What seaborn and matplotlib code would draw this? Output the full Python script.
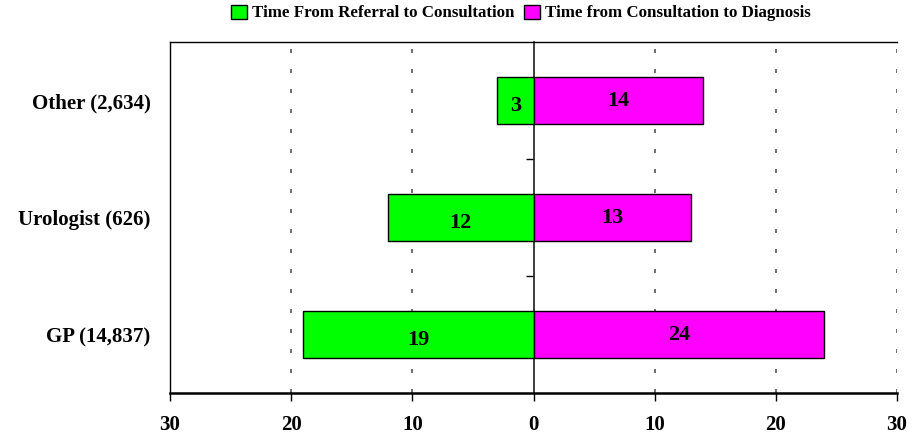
import matplotlib
matplotlib.use("Agg")
import matplotlib.pyplot as plt
import seaborn as sns
import pandas as pd
from matplotlib.patches import Patch

# Referral source groups (number of patients in brackets)
categories = ["Other (2,634)", "Urologist (626)", "GP (14,837)"]
# Median days from referral to first consultation
referral_to_consult = [3, 12, 19]
# Median days from consultation to diagnosis
consult_to_diagnosis = [14, 13, 24]
series_names = ["Time From Referral to Consultation",
                "Time from Consultation to Diagnosis"]
series_colors = ["#00FF00", "#FF00FF"]
x_ticks = [-30, -20, -10, 0, 10, 20, 30]
x_tick_labels = ["30", "20", "10", "0", "10", "20", "30"]

sns.set_theme(style="white")
plt.rcParams["font.family"] = ["Liberation Serif", "DejaVu Serif"]
plt.rcParams["text.color"] = "black"
plt.rcParams["xtick.color"] = "black"
plt.rcParams["ytick.color"] = "black"

# Referral time is drawn to the left of zero, diagnosis time to the right
df = pd.DataFrame({
    "category": categories * 2,
    "days": [-v for v in referral_to_consult] + list(consult_to_diagnosis),
    "series": [series_names[0]] * len(categories) + [series_names[1]] * len(categories),
})

fig = plt.figure(figsize=(9.17, 4.36), dpi=100)
ax = fig.add_axes([170 / 917, 1 - 393 / 436, 727 / 917, 351 / 436])

sns.barplot(data=df, x="days", y="category", hue="series", order=categories,
            hue_order=series_names, palette=series_colors, saturation=1,
            dodge=False, width=0.41, edgecolor="black", linewidth=1.0,
            orient="h", legend=False, ax=ax, zorder=3)

ax.set_xlim(-30, 30)
ax.set_ylim(2.5, -0.5)
ax.set_xticks(x_ticks)
ax.set_xticklabels(x_tick_labels, fontsize=15, fontweight="bold")
ax.tick_params(axis="x", direction="out", length=6, width=1, color="black",
               bottom=True, pad=10)
ax.set_yticks(range(len(categories)))
ax.set_yticklabels(categories, fontsize=15, fontweight="bold")
ax.tick_params(axis="y", length=0, pad=14)
ax.set_xlabel("")
ax.set_ylabel("")

# Dashed vertical guides
for xv in [-20, -10, 10, 20, 30]:
    ax.axvline(xv, color="#555555", lw=1.2, linestyle=(0, (2.4, 9.6)), zorder=1)

for side in ["left", "top", "bottom"]:
    ax.spines[side].set_color("black")
    ax.spines[side].set_linewidth(1.0)
ax.spines["bottom"].set_linewidth(1.8)
ax.spines["right"].set_visible(False)

# Centre axis at zero with ticks between the categories
center = ax.secondary_yaxis(0.5)
center.set_yticks([0.5, 1.5])
center.set_yticklabels([])
center.tick_params(axis="y", direction="in", length=6, width=1, color="black")
center.spines["left"].set_color("black")
center.spines["left"].set_linewidth(1.2)

# Value labels inside the bars
for i in range(len(categories)):
    ax.text(-referral_to_consult[i] / 2, i + 0.05, str(referral_to_consult[i]),
            ha="center", va="center", fontsize=16, fontweight="bold", zorder=4)
    ax.text(consult_to_diagnosis[i] / 2, i, str(consult_to_diagnosis[i]),
            ha="center", va="center", fontsize=16, fontweight="bold", zorder=4)

handles = [Patch(facecolor=c, edgecolor="black", linewidth=1.0) for c in series_colors]
fig.legend(handles, series_names, loc="center", bbox_to_anchor=(521 / 917, 1 - 13 / 436),
           ncol=2, frameon=False, prop={"weight": "bold", "size": 12.2},
           handlelength=0.9, handleheight=0.9, handletextpad=0.3, columnspacing=0.6,
           borderaxespad=0)

fig.savefig("out.png", dpi=100)
